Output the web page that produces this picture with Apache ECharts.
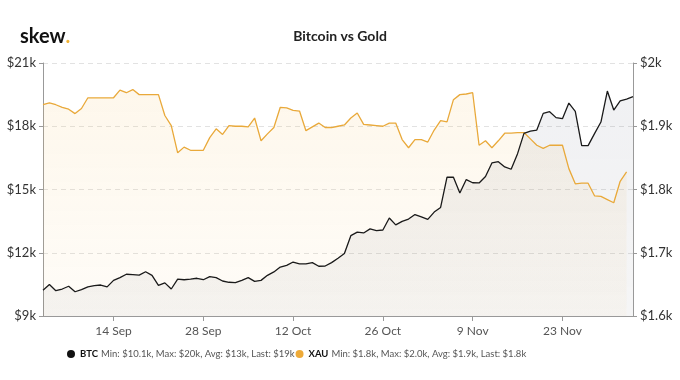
<!DOCTYPE html>
<html><head><meta charset="utf-8">
<script src="https://cdn.jsdelivr.net/npm/echarts@6/dist/echarts.min.js"></script>
<style>html,body{margin:0;padding:0;background:#fff}#c{width:680px;height:380px}</style>
</head><body><div id="c"></div>
<script>
// Daily categories from 3 Sep to 4 Dec
const startDate = [2020, 8, 3];
const dayCount = 93;
const monthNames = ['Jan','Feb','Mar','Apr','May','Jun','Jul','Aug','Sep','Oct','Nov','Dec'];
const categories = [];
for (let i = 0; i < dayCount; i++) {
  const d = new Date(Date.UTC(startDate[0], startDate[1], startDate[2] + i));
  categories.push(d.getUTCDate() + ' ' + monthNames[d.getUTCMonth()]);
}
const tickLabels = ['14 Sep','28 Sep','12 Oct','26 Oct','9 Nov','23 Nov'];

const btc = [
10220,10490,10200,10280,10410,10150,10250,10380,10440,10470,
10380,10690,10820,10980,10960,10940,11100,10930,10450,10570,
10280,10750,10720,10750,10790,10720,10870,10820,10660,10600,
10580,10690,10820,10640,10690,10930,11090,11320,11400,11560,
11470,11470,11530,11360,11370,11530,11740,11960,12810,12980,
12940,13130,13050,13080,13650,13320,13490,13600,13810,13700,
13580,13930,14150,15590,15580,14830,15470,15320,15310,15620,
16260,16320,16070,15960,16700,17660,17770,17820,18610,18690,
18410,18360,19100,18710,17080,17080,17650,18200,19670,18770,
19200,19290,19400
];
const xau = [
1934,1937,1934,1930,1927,1920,1928,1945,1945,1945,
1945,1945,1957,1953,1958,1950,1950,1950,1950,1917,
1901,1858,1867,1862,1862,1862,1882,1896,1887,1901,
1900,1900,1899,1913,1877,1888,1898,1930,1929,1925,
1924,1893,1899,1905,1898,1898,1900,1902,1913,1921,
1903,1902,1901,1900,1905,1905,1879,1866,1879,1879,
1875,1894,1909,1907,1942,1950,1951,1953,1870,1877,
1866,1877,1889,1889,1890,1890,1880,1870,1865,1870,
1870,1870,1833,1809,1810,1810,1790,1789,1784,1779,
1813,1828,null
];
const seriesNames = ['BTC', 'XAU'];
const legendStats = {
  BTC: 'Min: $10.1k, Max: $20k, Avg: $13k, Last: $19k',
  XAU: 'Min: $1.8k, Max: $2.0k, Avg: $1.9k, Last: $1.8k'
};

const chart = echarts.init(document.getElementById('c'), null, {renderer: 'canvas'});
const FONT = 'Lato, "Open Sans", sans-serif';
chart.setOption({
  animation: false,
  textStyle: {fontFamily: FONT},
  title: [
    {text: '{a|skew}{b|.}', left: 15, top: 22,
      textStyle: {rich: {
        a: {fontFamily: FONT, fontWeight: 'bold', fontSize: 20, color: '#111'},
        b: {fontFamily: FONT, fontWeight: 'bold', fontSize: 20, color: '#f2b233'}
      }}},
    {text: 'Bitcoin vs Gold', left: 'center', top: 24,
      textStyle: {fontFamily: FONT, fontWeight: 'bold', fontSize: 14, color: '#222'}}
  ],
  grid: {left: 43, right: 47, top: 63, bottom: 64, containLabel: false},
  legend: {
    bottom: 15, left: 62, itemGap: 1, itemWidth: 8, itemHeight: 8, icon: 'circle',
    data: seriesNames,
    formatter: function (name) { return '{n|' + name + '} {s|' + legendStats[name] + '}'; },
    textStyle: {rich: {
      n: {fontFamily: FONT, fontWeight: 'bold', fontSize: 9.5, color: '#111'},
      s: {fontFamily: FONT, fontSize: 9.5, color: '#555'}
    }}
  },
  xAxis: {
    type: 'category', data: categories, boundaryGap: false,
    axisLine: {lineStyle: {color: '#999'}},
    axisTick: {length: 5, lineStyle: {color: '#999'},
      interval: function (i, v) { return tickLabels.indexOf(v) >= 0; }},
    axisLabel: {color: '#555', fontSize: 12, margin: 9,
      interval: function (i, v) { return tickLabels.indexOf(v) >= 0; }},
    splitLine: {show: false}
  },
  yAxis: [
    {type: 'value', min: 9000, max: 21000, interval: 3000, position: 'left',
      axisLine: {show: true, lineStyle: {color: '#999'}},
      axisTick: {show: true, length: 4, lineStyle: {color: '#999'}},
      axisLabel: {color: '#333', fontSize: 13, margin: 7, formatter: v => '$' + (v / 1000) + 'k'},
      splitLine: {lineStyle: {color: '#e2e2e2', type: [5, 4]}}},
    {type: 'value', min: 1600, max: 2000, interval: 100, position: 'right',
      axisLine: {show: true, lineStyle: {color: '#999'}},
      axisTick: {show: true, length: 4, lineStyle: {color: '#999'}},
      axisLabel: {color: '#333', fontSize: 13, margin: 7, formatter: v => '$' + (v / 1000) + 'k'},
      splitLine: {show: false}}
  ],
  series: [
    {name: 'XAU', type: 'line', yAxisIndex: 1, data: xau, showSymbol: false, symbol: 'circle',
      itemStyle: {color: '#eeaa38'},
      lineStyle: {color: '#e9a93a', width: 1.3},
      areaStyle: {color: new echarts.graphic.LinearGradient(0, 0, 0, 1, [
        {offset: 0, color: 'rgba(245,190,90,0.17)'},
        {offset: 1, color: 'rgba(245,200,120,0.08)'}
      ])}},
    {name: 'BTC', type: 'line', yAxisIndex: 0, data: btc, showSymbol: false, symbol: 'circle',
      itemStyle: {color: '#111'},
      lineStyle: {color: '#1a1a1a', width: 1.3},
      areaStyle: {color: new echarts.graphic.LinearGradient(0, 0, 0, 1, [
        {offset: 0, color: 'rgba(60,70,100,0.11)'},
        {offset: 1, color: 'rgba(60,60,70,0.07)'}
      ])}}
  ]
});
</script></body></html>
